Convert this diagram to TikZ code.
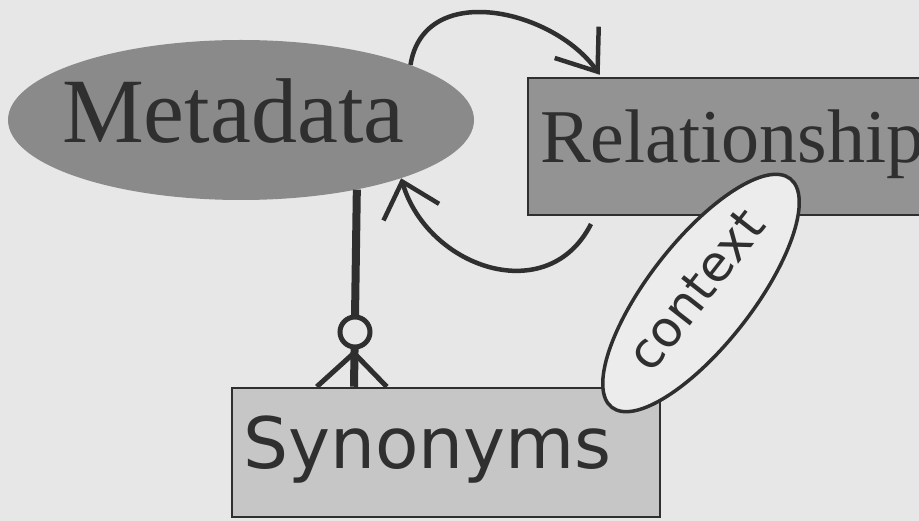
\documentclass[tikz,border=0pt]{standalone}
\usepackage{fontspec}
\setmainfont{Liberation Serif}
\newfontfamily\labelsans{DejaVu Sans}
\usetikzlibrary{shapes.geometric,arrows.meta,calc}

\definecolor{paper}{HTML}{E7E7E8}
\definecolor{ink}{HTML}{2F2F2F}
\definecolor{entitydark}{HTML}{8A8A8A}
\definecolor{reldark}{HTML}{939393}
\definecolor{entitylight}{HTML}{C6C6C6}
\definecolor{ovalfill}{HTML}{ECECEC}

\tikzset{
  metaell/.style={ellipse, fill=entitydark, inner sep=0pt,
    minimum width=466pt, minimum height=160pt},
  relbox/.style={rectangle, draw=ink, line width=2.5pt, fill=reldark,
    inner sep=0pt, minimum width=407pt, minimum height=137pt},
  synbox/.style={rectangle, draw=ink, line width=2.5pt, fill=entitylight,
    inner sep=0pt, minimum width=428pt, minimum height=129pt},
  ctxell/.style={ellipse, draw=ink, line width=3.5pt, fill=ovalfill,
    inner sep=0pt, minimum width=290pt, minimum height=104pt, rotate=52},
  serifword/.style={text=ink, inner sep=0pt, anchor=base west},
  loopline/.style={draw=ink, line width=4.5pt},
  barbA/.style={-{Straight Barb[length=36pt, width=54pt]}},
  barbB/.style={-{Straight Barb[length=32pt, width=58pt]}},
  erline/.style={draw=ink, line width=8pt},
  footline/.style={draw=ink, line width=5pt},
}

\begin{document}
\begin{tikzpicture}[x=1pt, y=-1pt]
  \path[use as bounding box, fill=paper] (0,0) rectangle (919,521);
  \clip (0,0) rectangle (919,521);

  % entity shapes
  \node[metaell] (meta) at (241,120) {};
  \node[serifword, font=\fontsize{92}{92}\selectfont] (metalabel) at (62,143) {Metadata};

  \node[relbox] (rel) at (731.5,146.5) {};
  \node[serifword, font=\fontsize{76}{76}\selectfont] (rellabel) at (540,163) {Relationship};

  \node[synbox] (syn) at (446,452.5) {};
  \node[serifword, font=\labelsans\fontsize{71}{71}\selectfont] (synlabel) at (243,468) {Synonyms};

  % one-to-many link with crow's foot
  \coordinate (cf) at (354,0);
  \coordinate (ring) at (355,332);
  \coordinate (fork) at (354,353);
  \draw[erline] (meta.-31.8) -- (cf |- syn.north);
  \draw[footline] (fork) -- ($(syn.north west)+(86,0)$);
  \draw[footline] (fork) -- ($(syn.north west)+(156,0)$);
  \draw[footline, fill=paper] (ring) circle[radius=15pt];

  % self relationship loops
  \coordinate (relout) at (591,224);
  \draw[loopline, barbA] (meta.18) .. controls (424,-20) and (553,9) .. ($(rel.north west)+(73,-2)$);
  \draw[loopline, barbB] (relout) .. controls (548,309) and (428,268) .. (meta.-20);

  % context qualifier
  \node[ctxell] (ctx) at (701,293) {};
  \node[rotate=52, text=ink, inner sep=0pt, font=\labelsans\fontsize{50}{50}\selectfont] (ctxlabel) at (696,290) {context};
\end{tikzpicture}
\end{document}
